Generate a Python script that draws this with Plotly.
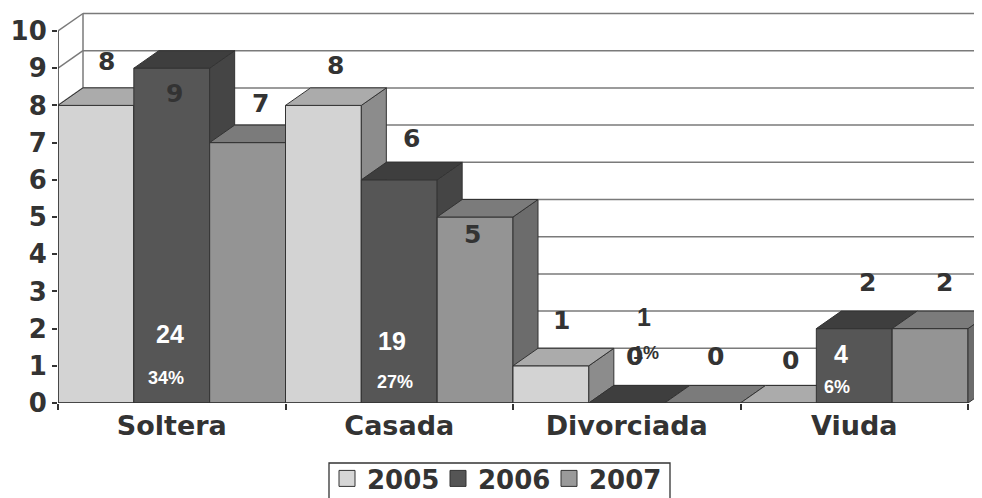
import plotly.graph_objects as go

# ---------------- data ----------------
categories = ["Soltera", "Casada", "Divorciada", "Viuda"]
years = ["2005", "2006", "2007"]
v2005 = [8, 8, 1, 0]
v2006 = [9, 6, 0, 2]
v2007 = [7, 5, 0, 2]
counts2006 = [24, 19, 1, 4]
pct2006 = ["34%", "27%", "1%", "6%"]
y_ticks = list(range(0, 11))

series = [v2005, v2006, v2007]

# ---------------- styling / geometry ----------------
FRONT = ["#d3d3d3", "#565656", "#949494"]
TOP = ["#ababab", "#3e3e3e", "#7b7b7b"]
SIDE = ["#8c8c8c", "#454545", "#6c6c6c"]
SWATCH = ["#d6d6d6", "#555555", "#9a9a9a"]
EDGE = "#333333"
TXT = "#333333"
GRID = "#7a7a7a"

# the page body adds an 8px offset; figure is sized to fill the rest
FIG_W, FIG_H = 974, 490
M_L, M_T, M_B = 50, 2, 95
PLOT_W = FIG_W - M_L
PLOT_H = FIG_H - M_T - M_B

PX_PER_X = 227.5
PX_PER_Y = 37.2
DX = 25 / PX_PER_X          # depth offset in x data units
DY = 17.5 / PX_PER_Y        # depth offset in y data units
XMAX = PLOT_W / PX_PER_X
YMAX = PLOT_H / PX_PER_Y
NS = len(series)
BW = 1.0 / NS

# label placement: x offset inside each category, y in data units
val_lab_dx = [[0.215, 0.218, 0.215, 0.218],
              [0.514, 0.556, 0.536, 0.560],
              [0.888, 0.824, 0.892, 0.895]]
val_lab_y = [[9.17, 9.06, 2.23, 1.13],
             [8.33, 7.12, 1.24, 3.25],
             [8.06, 4.52, 1.24, 3.25]]
cnt_lab_dx = [0.492, 0.468, 0.576, 0.442]
cnt_lab_y = [1.85, 1.67, 2.31, 1.32]
pct_lab_dx = [0.475, 0.481, 0.585, 0.424]
pct_lab_y = [0.67, 0.56, 1.34, 0.43]
cnt_color = ["white", "white", TXT, "white"]

FONT_BOLD = "DejaVu Sans"
FONT_ARIAL = "Liberation Sans"

fig = go.Figure()


def poly(xs, ys, fill, width=1.0, color=EDGE):
    fig.add_trace(go.Scatter(
        x=xs + [xs[0]], y=ys + [ys[0]], mode="lines",
        line=dict(color=color, width=width), fill="toself", fillcolor=fill,
        hoverinfo="skip", showlegend=False))


def line(xs, ys, color=GRID, width=1.5):
    fig.add_trace(go.Scatter(
        x=xs, y=ys, mode="lines", line=dict(color=color, width=width),
        hoverinfo="skip", showlegend=False))


# back wall and left wall
for k in y_ticks:
    line([DX, XMAX + 0.2], [k + DY, k + DY])
    line([0, DX], [k, k + DY])
line([DX, DX], [DY, 10 + DY])

# bars: front, side, top — drawn left to right
for ci in range(len(categories)):
    for si in range(NS):
        v = series[si][ci]
        x0 = ci + si * BW
        x1 = x0 + BW
        if v > 0:
            poly([x0, x1, x1, x0], [0, 0, v, v], FRONT[si])
            poly([x1, x1 + DX, x1 + DX, x1], [0, DY, v + DY, v], SIDE[si])
        poly([x0, x1, x1 + DX, x0 + DX], [v, v, v + DY, v + DY], TOP[si])

# front axis lines
line([0, 0], [0, 10], color=EDGE, width=1.5)
line([0, len(categories)], [0, 0], color=EDGE, width=1.5)

# legend entries
for si, yr in enumerate(years):
    fig.add_trace(go.Scatter(
        x=[None], y=[None], mode="markers", name=yr,
        marker=dict(symbol="square", size=19, color=SWATCH[si],
                    line=dict(color=EDGE, width=1))))

# value labels
for si in range(NS):
    for ci in range(len(categories)):
        fig.add_annotation(x=ci + val_lab_dx[si][ci], y=val_lab_y[si][ci],
                           text=str(series[si][ci]),
                           showarrow=False, xanchor="center", yanchor="middle",
                           font=dict(family=FONT_BOLD, size=25, color=TXT, weight="bold"))

# counts and percentages on the 2006 bars
for ci in range(len(categories)):
    fig.add_annotation(x=ci + cnt_lab_dx[ci], y=cnt_lab_y[ci], text=str(counts2006[ci]),
                       showarrow=False, font=dict(family=FONT_ARIAL, size=25,
                                                  color=cnt_color[ci], weight="bold"))
    fig.add_annotation(x=ci + pct_lab_dx[ci], y=pct_lab_y[ci], text=pct2006[ci],
                       showarrow=False, font=dict(family=FONT_ARIAL, size=18,
                                                  color=cnt_color[ci], weight="bold"))

# legend frame (page px -> paper coords)
def px_to_paper_x(px):
    return (px - 8 - M_L) / PLOT_W


def px_to_paper_y(py):
    return (M_T + PLOT_H - (py - 8)) / PLOT_H


fig.add_shape(type="rect", xref="paper", yref="paper",
              x0=px_to_paper_x(329), x1=px_to_paper_x(670),
              y0=px_to_paper_y(463), y1=px_to_paper_y(506),
              line=dict(color=EDGE, width=1.3), fillcolor="rgba(0,0,0,0)", layer="above")

fig.update_layout(
    width=FIG_W, height=FIG_H,
    margin=dict(l=M_L, r=0, t=M_T, b=M_B, autoexpand=False),
    paper_bgcolor="white", plot_bgcolor="white",
    showlegend=True,
    legend=dict(orientation="h", xref="container", yref="container",
                x=(327 - 8) / FIG_W, xanchor="left",
                y=(FIG_H - (455 - 8)) / FIG_H, yanchor="top",
                borderwidth=0, bgcolor="rgba(0,0,0,0)",
                font=dict(family=FONT_BOLD, size=26, color=TXT, weight="bold"),
                itemwidth=30, entrywidth=66, entrywidthmode="pixels"),
    xaxis=dict(range=[0, XMAX], showgrid=False, zeroline=False, showline=False,
               automargin=False,
               tickvals=[i + 0.5 for i in range(len(categories))], ticktext=categories,
               ticks="", ticklabelstandoff=4,
               tickfont=dict(family=FONT_BOLD, size=27, color=TXT, weight="bold"),
               minor=dict(tickvals=list(range(len(categories) + 1)), ticks="outside",
                          ticklen=6, tickcolor=EDGE, tickwidth=1.5),
               fixedrange=True),
    yaxis=dict(range=[0, YMAX], showgrid=False, zeroline=False, showline=False,
               automargin=False,
               tickvals=y_ticks, ticks="outside", ticklen=5, tickcolor=EDGE, tickwidth=1.5,
               tickfont=dict(family=FONT_BOLD, size=26, color=TXT, weight="bold"),
               fixedrange=True),
)

fig.write_html("out.html")
